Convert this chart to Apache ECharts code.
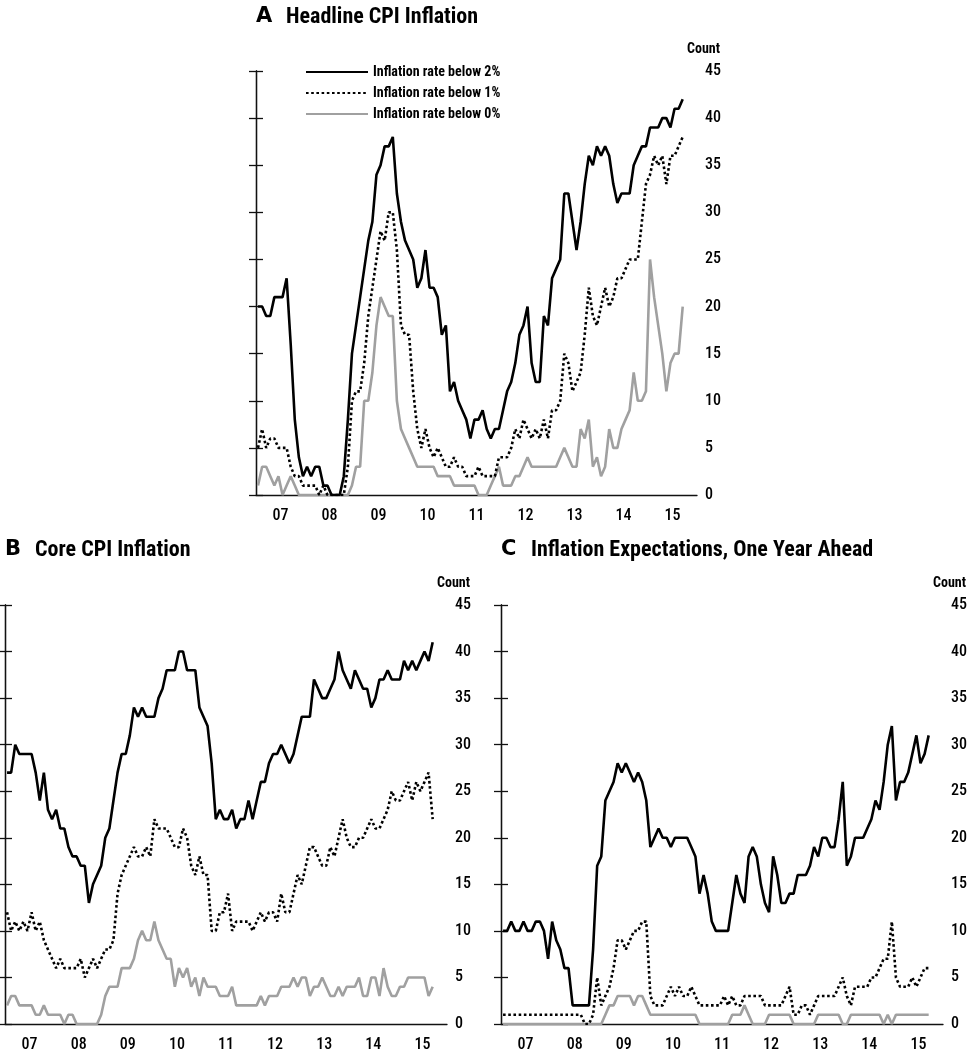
<!DOCTYPE html>
<html><head><meta charset="utf-8">
<script src="https://cdn.jsdelivr.net/npm/echarts@6/dist/echarts.min.js"></script>
<style>html,body{margin:0;padding:0;background:#fff}#c{width:976px;height:1060px}</style>
</head><body><div id="c"></div>
<script>
// ---------------- DATA (monthly, Jan 2007 - Sep 2015) ----------------
const years = ['07','08','09','10','11','12','13','14','15'];
const seriesNames = ['Inflation rate below 2%','Inflation rate below 1%','Inflation rate below 0%'];

// Panel A: Headline CPI inflation (count)
const headlineBelow2 = [20,20,19,19,21,21,21,23,16,8, 4,2,3,2,3,3,1,1,0,0, 0,2,8,15,18,21,24,27,29,34,
  35,37,37,38,32,29,27,26,25,22, 23,26,22,22,21,17,18,11,12,10, 9,8,6,8,8,9,7,6,7,7,
  9,11,12,14,17,18,20,14,12,12, 19,18,23,24,25,32,32,29,26,29, 33,36,35,37,36,37,36,33,31,32,
  32,32,35,36,37,37,39,39,39,40, 40,39,41,41,42];
const headlineBelow1 = [5,7,5,6,6,5,5,5,3,2, 2,1,1,1,1,0,1,0,0,0, 0,0,3,10,11,11,14,19,22,25,
  28,27,30,30,26,18,17,17,11,7, 5,7,5,4,5,4,3,3,4,3, 3,2,2,2,3,2,2,2,2,4,
  4,4,5,7,6,8,7,6,7,6, 8,6,9,9,10,15,14,11,12,13, 17,22,19,18,20,22,20,21,23,23,
  24,25,25,25,29,33,34,36,35,36, 33,36,36,37,38];
const headlineBelow0 = [1,3,3,2,1,2,0,1,2,1, 0,0,0,0,0,0,0,0,0,0, 0,0,0,1,3,3,10,10,13,18,
  21,20,19,19,10,7,6,5,4,3, 3,3,3,3,2,2,2,2,1,1, 1,1,1,1,0,0,0,1,2,3,
  1,1,1,2,2,3,4,3,3,3, 3,3,3,3,4,5,4,3,3,7, 6,8,3,4,2,3,7,5,5,7,
  8,9,13,10,10,11,25,21,18,15, 11,14,15,15,20];

// Panel B: Core CPI inflation (count)
const coreBelow2 = [27,27,30,29,29,29,29,27,24,27, 23,22,23,21,21,19,18,18,17,17, 13,15,16,17,20,21,24,27,29,29,
  31,34,33,34,33,33,33,35,36,38, 38,38,40,40,38,38,38,34,33,32, 28,22,23,22,22,23,21,22,22,24,
  22,24,26,26,28,29,29,30,29,28, 29,31,33,33,33,37,36,35,35,36, 37,40,38,37,36,38,37,36,36,34,
  35,37,37,38,37,37,37,39,38,39, 38,39,40,39,41];
const coreBelow1 = [12,10,11,10,11,10,12,10,11,9, 8,7,6,7,6,6,6,6,7,5, 6,7,6,7,8,8,9,14,16,17,
  18,19,18,18,19,18,22,21,21,21, 20,19,19,21,20,17,16,18,16,16, 10,10,12,12,14,10,11,11,11,11,
  10,11,12,11,12,12,11,14,12,12, 14,16,15,17,19,19,18,17,17,19, 18,20,22,20,19,19,20,20,21,22,
  21,21,22,23,25,24,24,25,26,24, 26,25,26,27,22];
const coreBelow0 = [2,3,3,2,2,2,2,1,1,2, 1,1,1,1,0,1,1,0,0,0, 0,0,0,1,3,4,4,4,6,6,
  6,7,9,10,9,9,11,9,8,7, 7,4,6,5,6,4,5,3,5,4, 4,4,3,3,3,4,2,2,2,2,
  2,2,3,2,3,3,3,4,4,4, 5,4,5,5,3,4,4,5,4,3, 3,4,3,4,4,4,5,3,3,5,
  5,3,6,4,3,3,4,4,5,5, 5,5,5,3,4];

// Panel C: Inflation expectations, one year ahead (count)
const expBelow2 = [10,10,11,10,10,11,10,10,11,11, 10,7,11,9,8,6,6,2,2,2, 2,2,8,17,18,24,25,26,28,27,
  28,27,26,27,26,24,19,20,21,20, 20,19,20,20,20,20,19,18,14,16, 14,11,10,10,10,10,13,16,14,13,
  18,19,18,15,13,12,18,16,13,13, 14,14,16,16,16,17,19,18,20,20, 19,19,22,26,17,18,20,20,20,21,
  22,24,23,26,30,32,24,26,26,27, 29,31,28,29,31];
const expBelow1 = [1,1,1,1,1,1,1,1,1,1, 1,1,1,1,1,1,1,1,1,1, 0,0,1,5,2,3,4,6,9,9,
  8,9,10,10,11,11,3,2,2,2, 3,4,3,4,3,3,4,3,2,2, 2,2,2,2,3,2,3,2,2,3,
  3,3,3,3,2,2,2,2,2,3, 4,1,1,2,2,1,2,3,3,3, 3,3,4,5,3,2,4,4,4,4,
  5,5,6,7,7,11,5,4,4,4, 5,4,5,6,6];
const expBelow0 = [0,0,0,0,0,0,0,0,0,0, 0,0,0,0,0,0,0,0,0,0, 0,0,0,0,0,1,2,2,3,3,
  3,3,2,3,3,2,1,1,1,1, 1,1,1,1,1,1,1,1,0,0, 0,0,0,0,0,0,1,1,1,2,
  1,0,0,0,0,1,1,1,1,1, 1,0,0,0,0,0,0,1,1,1, 1,1,1,0,0,1,1,1,1,1,
  1,1,1,0,1,0,1,1,1,1, 1,1,1,1,1];

// ---------------- LAYOUT / STYLE ----------------
const FONT = "'Roboto Condensed','DejaVu Sans Condensed',sans-serif";
const panels = [
  {key:'A', title:'Headline CPI Inflation', left:256, top:71, width:441, height:424, titleY:17, data:[headlineBelow2, headlineBelow1, headlineBelow0]},
  {key:'B', title:'Core CPI Inflation', left:5, top:605, width:442, height:419, titleY:550, data:[coreBelow2, coreBelow1, coreBelow0]},
  {key:'C', title:'Inflation Expectations, One Year Ahead', left:501, top:605, width:442, height:419, titleY:550, data:[expBelow2, expBelow1, expBelow0]}
];
const lineStyles = [
  {color:'#000', width:2.6, type:'solid'},
  {color:'#000', width:2.6, type:[2.6,2.6]},
  {color:'#a0a0a0', width:2.6, type:'solid'}
];
const AX = '#111';

const grid = [], xAxis = [], yAxis = [], series = [], graphic = [];
panels.forEach((p, g) => {
  grid.push({left:p.left, top:p.top, width:p.width, height:p.height, containLabel:false});
  xAxis.push({type:'category', gridIndex:g, data:years, boundaryGap:true, position:'bottom',
    axisLine:{lineStyle:{color:AX, width:1.3}},
    axisTick:{inside:true, length:8, interval:0, lineStyle:{color:AX, width:1.3}},
    axisLabel:{interval:0, margin:13, fontSize:16, fontWeight:500, color:'#000', fontFamily:FONT},
    splitLine:{show:false}});
  xAxis.push({type:'value', gridIndex:g, min:0, max:years.length*12, show:false});
  yAxis.push({type:'value', gridIndex:g, position:'right', min:0, max:45, interval:5,
    axisLine:{show:true, lineStyle:{color:AX, width:1.3}},
    axisTick:{show:true, inside:true, length:7, lineStyle:{color:AX, width:1.3}},
    axisLabel:{margin:8, fontSize:16, fontWeight:500, color:'#000', fontFamily:FONT},
    splitLine:{show:false}});
  yAxis.push({type:'value', gridIndex:g, position:'left', min:0, max:45, interval:5,
    axisLine:{show:true, lineStyle:{color:AX, width:1.3}},
    axisTick:{show:true, inside:true, length:7, lineStyle:{color:AX, width:1.3}},
    axisLabel:{show:false}, splitLine:{show:false}});
  [2,1,0].forEach(k => {
    series.push({name:seriesNames[k], type:'line', xAxisIndex:2*g+1, yAxisIndex:2*g,
      data:p.data[k].map((v,i) => [i+0.5, v]), symbol:'none', showSymbol:false,
      lineStyle:lineStyles[k], itemStyle:{color:lineStyles[k].color}, z:3+(2-k), silent:true});
  });
  graphic.push({type:'text', x:p.left, y:p.titleY, style:{text:p.key, font:"bold 21px 'DejaVu Sans'", fill:'#000', verticalAlign:'middle'}});
  graphic.push({type:'text', x:p.left+30, y:p.titleY, style:{text:p.title, font:"bold 22px "+FONT, fill:'#000', verticalAlign:'middle'}});
  graphic.push({type:'text', x:p.left+p.width+23, y:p.top-22, style:{text:'Count', font:"bold 14px "+FONT, fill:'#000', align:'right', verticalAlign:'middle'}});
});

const chart = echarts.init(document.getElementById('c'), null, {renderer:'canvas'});
chart.setOption({
  animation:false,
  backgroundColor:'#fff',
  grid, xAxis, yAxis, series, graphic,
  legend:{orient:'vertical', left:305, top:65, padding:0, itemWidth:62, itemHeight:14, itemGap:7,
    data:seriesNames, selectedMode:false, itemStyle:{opacity:0},
    textStyle:{fontFamily:FONT, fontSize:14, fontWeight:'bold', color:'#000'}}
});
</script></body></html>
